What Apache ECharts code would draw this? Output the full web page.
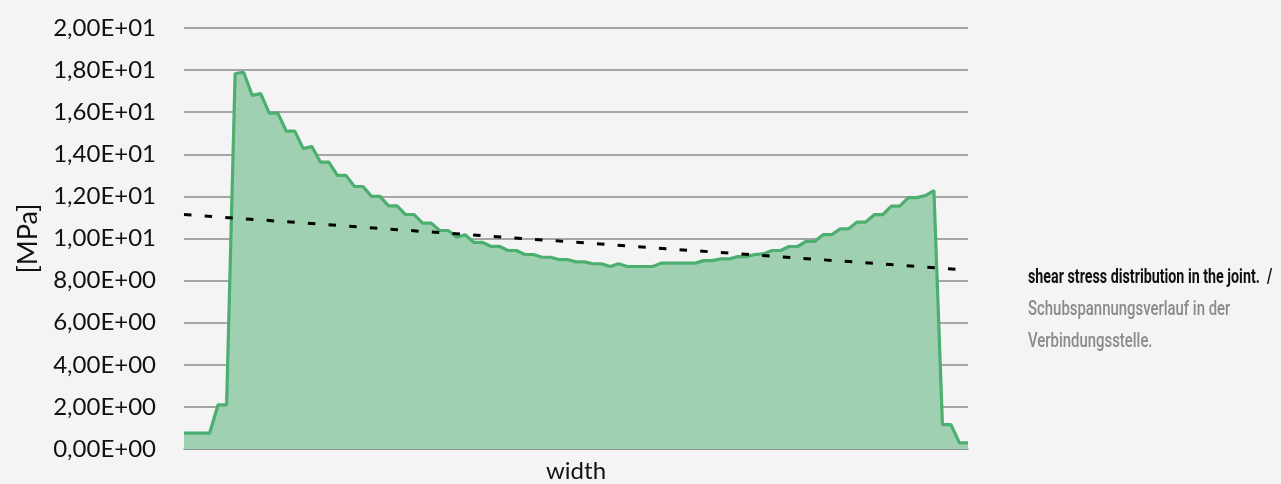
<!DOCTYPE html>
<html>
<head>
<meta charset="utf-8">
<script src="https://cdn.jsdelivr.net/npm/echarts@6/dist/echarts.min.js"></script>
<style>
html,body{margin:0;padding:0;background:#f4f4f4;}
#c{width:1281px;height:484px;}
</style>
</head>
<body>
<div id="c"></div>
<script>
// ---- data ----
const stress = [
  0.75, 0.75, 0.75, 0.75, 2.1, 2.1, 17.83, 17.9, 16.8, 16.88,
  15.96, 15.96, 15.1, 15.1, 14.27, 14.37, 13.63, 13.63, 13.0, 13.0,
  12.47, 12.47, 12.0, 12.0, 11.55, 11.55, 11.14, 11.14, 10.73, 10.73,
  10.38, 10.38, 10.06, 10.18, 9.82, 9.82, 9.63, 9.63, 9.43, 9.43,
  9.24, 9.24, 9.11, 9.11, 9.0, 9.0, 8.89, 8.89, 8.8, 8.8,
  8.67, 8.8, 8.67, 8.67, 8.67, 8.67, 8.83, 8.83, 8.83, 8.83,
  8.83, 8.95, 8.95, 9.03, 9.03, 9.14, 9.14, 9.24, 9.27, 9.43,
  9.43, 9.62, 9.62, 9.86, 9.86, 10.18, 10.18, 10.46, 10.46, 10.78,
  10.78, 11.13, 11.13, 11.54, 11.54, 11.94, 11.94, 12.04, 12.28, 1.16,
  1.16, 0.29, 0.29
];
const categories = stress.map((_, i) => String(i + 1));
const trendStart = 11.14;
const trendEnd = 8.5;
const yTicks = { min: 0, max: 20, interval: 2 };
const xAxisTitle = 'width';
const yAxisTitle = '[MPa]';
const captionLines = [
  'shear stress distribution in the joint.  /',
  'Schubspannungsverlauf in der',
  'Verbindungsstelle.'
];

function sci(v) {
  if (v === 0) return '0,00E+00';
  const e = Math.floor(Math.log10(Math.abs(v)) + 1e-9);
  const m = v / Math.pow(10, e);
  const es = (e < 0 ? '-' : '+') + String(Math.abs(e)).padStart(2, '0');
  return m.toFixed(2).replace('.', ',') + 'E' + es;
}

const chart = echarts.init(document.getElementById('c'), null, { renderer: 'canvas' });
chart.setOption({
  backgroundColor: '#f4f4f4',
  animation: false,
  grid: { left: 184, right: 313, top: 28, bottom: 35, containLabel: false, outerBoundsMode: 'none' },
  xAxis: {
    type: 'category',
    data: categories,
    boundaryGap: false,
    name: xAxisTitle,
    nameLocation: 'middle',
    nameGap: 10,
    nameTextStyle: { fontFamily: 'Lato', fontSize: 24, color: '#111', verticalAlign: 'top' },
    axisLine: { show: true, lineStyle: { color: '#8c8c8c', width: 1.5 } },
    axisTick: { show: false },
    axisLabel: { show: false },
    splitLine: { show: false }
  },
  yAxis: {
    type: 'value',
    min: yTicks.min,
    max: yTicks.max,
    interval: yTicks.interval,
    name: yAxisTitle,
    nameLocation: 'middle',
    nameRotate: 90,
    nameGap: 136,
    nameTextStyle: { fontFamily: 'Lato', fontSize: 27, color: '#111' },
    axisLine: { show: false },
    axisTick: { show: false },
    axisLabel: {
      formatter: sci,
      margin: 28,
      fontFamily: 'Lato',
      fontSize: 24,
      color: '#111'
    },
    splitLine: { lineStyle: { color: '#8c8c8c', width: 1.5 } }
  },
  series: [
    {
      type: 'line',
      data: stress,
      symbol: 'none',
      lineStyle: { color: '#4caf70', width: 3.2 },
      areaStyle: { color: '#a0d0b2', opacity: 1 },
      z: 2
    },
    {
      type: 'line',
      data: [[0, trendStart], [stress.length - 1, trendEnd]],
      symbol: 'none',
      lineStyle: { color: '#000', width: 3, type: [7.5, 13.2] },
      z: 3
    }
  ],
  graphic: [
    { type: 'text', x: 1028, y: 267, scaleX: 0.68,
      style: { text: captionLines[0], fontFamily: 'Roboto', fontWeight: 'bold', fontSize: 21, fill: '#111' } },
    { type: 'text', x: 1028, y: 299, scaleX: 0.71,
      style: { text: captionLines[1], fontFamily: 'Roboto', fontWeight: 500, fontSize: 21, fill: '#8a8a8a' } },
    { type: 'text', x: 1028, y: 331, scaleX: 0.71,
      style: { text: captionLines[2], fontFamily: 'Roboto', fontWeight: 500, fontSize: 21, fill: '#8a8a8a' } }
  ]
});
</script>
</body>
</html>
